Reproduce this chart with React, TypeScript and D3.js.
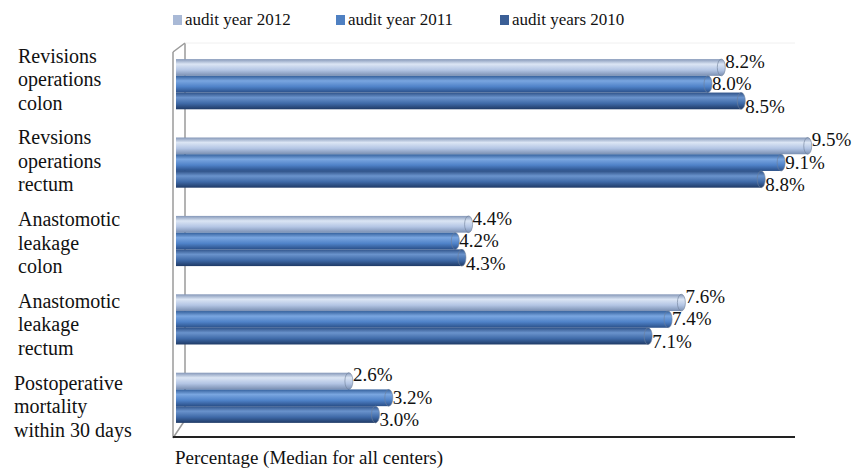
import React from "react";
import * as d3 from "d3";

const categories: string[][] = [
  ["Revisions", "operations", "colon"],
  ["Revsions", "operations", "rectum"],
  ["Anastomotic", "leakage", "colon"],
  ["Anastomotic", "leakage", "rectum"],
  ["Postoperative", "mortality", "within 30 days"],
];
const seriesNames = ["audit year 2012", "audit year 2011", "audit years 2010"];
const values2012 = [8.2, 9.5, 4.4, 7.6, 2.6];
const values2011 = [8.0, 9.1, 4.2, 7.4, 3.2];
const values2010 = [8.5, 8.8, 4.3, 7.1, 3.0];
const xTitle = "Percentage (Median for all centers)";

const seriesValues = [values2012, values2011, values2010];
const gradStops = [
  ["#8497b8", "#dbe5f4", "#b3c5e4", "#7a8fb2"],
  ["#34609c", "#7aa6e0", "#4f82c8", "#2a4f88"],
  ["#2f5288", "#6a93cc", "#3f6aa8", "#1f3a66"],
];
const swatch = ["#a9b9d6", "#4f80c2", "#3b5f96"];

export default function App() {
  const W = 860, H = 469;
  const font = "Liberation Serif, Times New Roman, serif";
  const x = d3.scaleLinear().domain([0, 10]).range([176, 841]);
  const y = d3
    .scaleBand<number>()
    .domain(d3.range(categories.length))
    .range([45, 437])
    .paddingInner(0.36)
    .paddingOuter(0.18);
  const inner = d3.scaleBand<number>().domain([0, 1, 2]).range([0, y.bandwidth()]).padding(0);
  const bh = inner.bandwidth();
  const labelY = d3.scalePoint<number>().domain(d3.range(categories.length)).range([86, 413]);

  return (
    <svg width={W} height={H} style={{ position: "absolute", left: 0, top: 0, background: "#fff", fontFamily: font }}>
      <defs>
        {gradStops.map((s, i) => (
          <linearGradient key={i} id={`g${i}`} x1="0" y1="0" x2="0" y2="1">
            <stop offset="0%" stopColor={s[0]} />
            <stop offset="30%" stopColor={s[1]} />
            <stop offset="65%" stopColor={s[2]} />
            <stop offset="100%" stopColor={s[3]} />
          </linearGradient>
        ))}
      </defs>

      {/* wall */}
      <g stroke="#9a9a9a" strokeWidth={1.5} fill="none">
        <line x1={185} y1={43} x2={185} y2={420} />
        <line x1={185} y1={43} x2={173} y2={52} />
        <line x1={173} y1={52} x2={173} y2={438} />
        <line x1={185} y1={420} x2={173} y2={438} />
        <line x1={185} y1={43} x2={795} y2={43} stroke="#f0f0f0" strokeWidth={1} />
      </g>

      {/* bars */}
      {categories.map((_, ci) => (
        <g key={ci}>
          {seriesValues.map((vals, si) => {
            const y0 = (y(ci) as number) + (inner(si) as number);
            const xe = x(vals[ci]);
            return (
              <g key={si}>
                <rect x={x(0)} y={y0} width={xe - x(0)} height={bh} fill={`url(#g${si})`} />
                <ellipse
                  cx={xe}
                  cy={y0 + bh / 2}
                  rx={4}
                  ry={bh / 2}
                  fill={`url(#g${si})`}
                  stroke="#6f7f99"
                  strokeWidth={0.6}
                />
              </g>
            );
          })}
        </g>
      ))}

      {/* value labels */}
      {categories.map((_, ci) => {
        const cy = (y(ci) as number) + y.bandwidth() / 2;
        return seriesValues.map((vals, si) => (
          <text
            key={`${ci}-${si}`}
            x={x(vals[ci]) + 4}
            y={cy + (si - 1) * 22.5 + 6}
            fontFamily={font}
            fontSize={19}
            fill="#111"
          >
            {vals[ci].toFixed(1) + "%"}
          </text>
        ));
      })}

      {/* category labels */}
      {categories.map((lines, ci) => {
        const cy = labelY(ci) as number;
        return (
          <text key={ci} fontFamily={font} fontSize={20} fill="#111">
            {lines.map((l, li) => (
              <tspan key={li} x={ci === 4 ? 14 : 18} y={cy + (li - 1) * 23.5}>
                {l}
              </tspan>
            ))}
          </text>
        );
      })}

      {/* x axis line */}
      <line x1={173} y1={437} x2={795} y2={437} stroke="#222" strokeWidth={2} />
      <text x={175} y={464} fontFamily={font} fontSize={19} fill="#111">
        {xTitle}
      </text>

      {/* legend */}
      {seriesNames.map((n, i) => {
        const lx = [173, 336, 500][i];
        return (
          <g key={i}>
            <rect x={lx} y={15} width={9} height={10} fill={swatch[i]} />
            <text x={lx + 12} y={25} fontFamily={font} fontSize={17} fill="#111">
              {n}
            </text>
          </g>
        );
      })}
    </svg>
  );
}
